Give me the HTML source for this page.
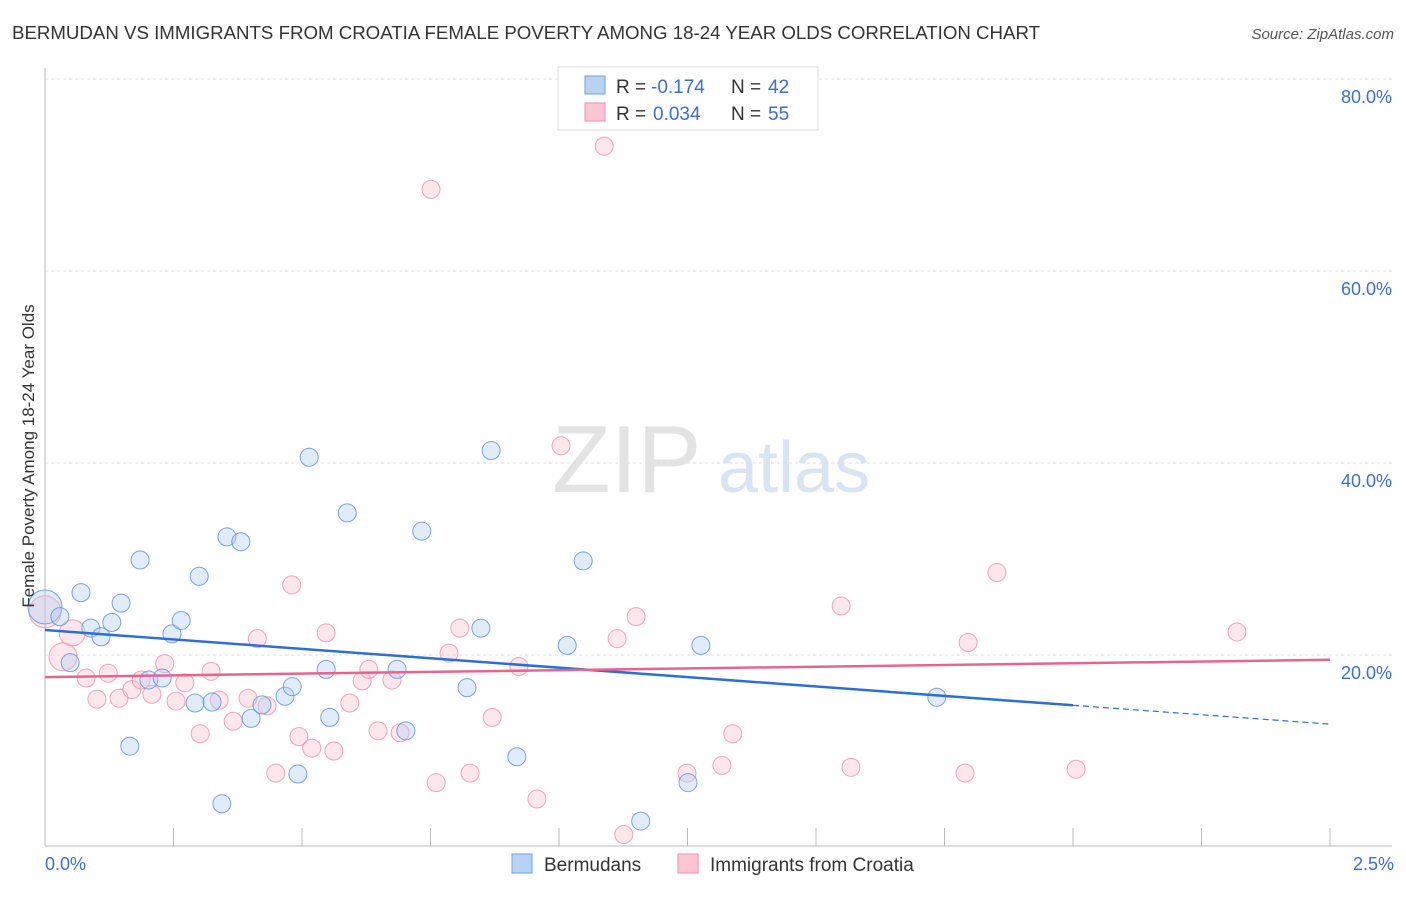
<!DOCTYPE html>
<html><head><meta charset="utf-8">
<style>
body{margin:0;background:#fff;font-family:"Liberation Sans",sans-serif;}
svg text{font-family:"Liberation Sans",sans-serif;}
</style></head>
<body>
<svg id="chart" width="1406" height="892" xmlns="http://www.w3.org/2000/svg">
<text x="12" y="39" font-size="18" fill="#333" textLength="1028" lengthAdjust="spacingAndGlyphs">BERMUDAN VS IMMIGRANTS FROM CROATIA FEMALE POVERTY AMONG 18-24 YEAR OLDS CORRELATION CHART</text>
<text x="1394" y="39" font-size="15" fill="#555" text-anchor="end" font-style="italic">Source: ZipAtlas.com</text>
<g>
<text x="552" y="492" font-size="96" fill="#ddd" font-family="Liberation Serif" opacity="0.8">ZIP</text>
<text x="718" y="492" font-size="72" fill="#c8d8ee" opacity="0.7">atlas</text>
</g>
<g id="grid"></g>
<g id="axes"></g>
<g id="marks"></g>
<text transform="translate(34,456) rotate(-90)" font-size="17" fill="#333" text-anchor="middle">Female Poverty Among 18-24 Year Olds</text>
<g>
<rect x="558" y="67" width="260" height="63" fill="#fff" stroke="#ddd"/>
<rect x="585" y="76" width="20" height="18" fill="#b8d2f4" stroke="#6fa0e0"/>
<rect x="585" y="103" width="20" height="18" fill="#fac6d4" stroke="#ee8fab"/>
<text x="616" y="93" font-size="19" fill="#333">R =</text>
<text x="651" y="93" font-size="19" fill="#3a6fcf">-0.174</text>
<text x="731" y="93" font-size="19" fill="#333">N =</text>
<text x="768" y="93" font-size="19" fill="#3a6fcf">42</text>
<text x="616" y="120" font-size="19" fill="#333">R =</text>
<text x="653" y="120" font-size="19" fill="#3a6fcf">0.034</text>
<text x="731" y="120" font-size="19" fill="#333">N =</text>
<text x="768" y="120" font-size="19" fill="#3a6fcf">55</text>
</g>
<g>
<rect x="512" y="854" width="20" height="19" fill="#b8d2f4" stroke="#6fa0e0"/>
<text x="544" y="871" font-size="19" fill="#333">Bermudans</text>
<rect x="678" y="854" width="20" height="19" fill="#fac6d4" stroke="#ee8fab"/>
<text x="710" y="871" font-size="19" fill="#333">Immigrants from Croatia</text>
</g>
</svg>
<script>
const blueX=[0,.029,.049,.070,.089,.109,.130,.148,.165,.185,.202,.228,.247,.265,.292,.300,.325,.354,.344,.381,.401,.422,.467,.481,.492,.514,.547,.554,.588,.685,.702,.733,.821,.848,.868,.918,1.016,1.047,1.159,1.251,1.276,1.735];
const blueY=[25.0,24.0,19.2,26.5,22.8,21.9,23.4,25.4,10.5,29.9,17.4,17.6,22.2,23.6,15.0,28.2,15.1,32.3,4.5,31.8,13.4,14.8,15.7,16.7,7.6,40.6,18.5,13.5,34.8,18.5,12.1,32.9,16.6,22.8,41.3,9.4,21.0,29.8,2.7,6.7,21.0,15.6];
const pinkX=[0,.035,.053,.080,.101,.123,.144,.169,.187,.208,.233,.255,.272,.302,.323,.339,.366,.395,.413,.432,.449,.480,.494,.519,.547,.562,.593,.617,.630,.648,.675,.691,.761,.786,.807,.827,.870,.922,.957,1.004,1.088,.751,1.113,1.126,1.150,1.249,1.317,1.338,1.549,1.568,1.790,1.796,1.852,2.006,2.319];
const pinkY=[24.5,19.8,22.3,17.6,15.4,18.1,15.5,16.4,17.4,15.9,19.1,15.2,17.1,11.8,18.3,15.3,13.1,15.5,21.7,14.7,7.7,27.3,11.5,10.3,22.3,10.0,15.0,17.3,18.5,12.1,17.4,11.9,6.7,20.2,22.8,7.7,13.5,18.8,5.0,41.8,73.0,68.5,21.7,1.3,24.0,7.7,8.5,11.8,25.1,8.3,7.7,21.3,28.6,8.1,22.4];
const blueTrend=[22.6,12.8];
const pinkTrend=[17.7,19.5];
const yTicks=[20,40,60,80];
const xTickLabels=["0.0%","2.5%"];
const NS="http://www.w3.org/2000/svg";
const sx=v=>45+v/2.5*1285;
const sy=v=>847-v*9.6;
function mk(tag,attrs,parent){const e=document.createElementNS(NS,tag);for(const k in attrs)e.setAttribute(k,attrs[k]);document.getElementById(parent).appendChild(e);return e;}
yTicks.forEach(t=>{
 const l=mk('line',{x1:45,x2:1392,y1:sy(t),y2:sy(t),stroke:'#ddd','stroke-dasharray':'3,3'},'grid');
 
 
 const tx=mk('text',{x:1392,y:sy(t)+24,'font-size':18,fill:'#3a6fcf','text-anchor':'end'},'axes');
 tx.textContent=t.toFixed(1)+'%';
 
 
});
let ax=mk('line',{x1:45,x2:45,y1:68,y2:846,stroke:'#bbb'},'axes');


ax=mk('line',{x1:45,x2:1392,y1:846,y2:846,stroke:'#bbb'},'axes');


for(let i=1;i<=10;i++){const t=mk('line',{x1:sx(i*0.25),x2:sx(i*0.25),y1:828,y2:846,stroke:'#bbb'},'axes');
 
 }
let xl=mk('text',{x:45,y:870,'font-size':18,fill:'#3a6fcf'},'axes');xl.textContent=xTickLabels[0];


xl=mk('text',{x:1394,y:870,'font-size':18,fill:'#3a6fcf','text-anchor':'end'},'axes');xl.textContent=xTickLabels[1];


function pts(X,Y,fill,stroke,name,bigR){X.forEach((x,i)=>{
 const c=mk('circle',{cx:sx(x),cy:sy(Y[i]),r:bigR[i]||9,fill:fill,'fill-opacity':0.4,stroke:stroke,'stroke-opacity':0.8,'stroke-width':1},'marks');
 
 
});}
pts(pinkX,pinkY,'#f9c0d0','#ec8fab','croatia-point',{0:16,1:14,2:13});
pts(blueX,blueY,'#b5cff3','#5a8edb','bermudan-point',{0:17});
let tl=mk('line',{x1:sx(0),y1:sy(blueTrend[0]),x2:sx(2.0),y2:sy(blueTrend[0]+(blueTrend[1]-blueTrend[0])*0.8),stroke:'#2b6fd6','stroke-width':2.5},'marks');


tl=mk('line',{x1:sx(2.0),y1:sy(blueTrend[0]+(blueTrend[1]-blueTrend[0])*0.8),x2:sx(2.5),y2:sy(blueTrend[1]),stroke:'#2b6fd6','stroke-width':1.2,'stroke-dasharray':'6,4'},'marks');


tl=mk('line',{x1:sx(0),y1:sy(pinkTrend[0]),x2:sx(2.5),y2:sy(pinkTrend[1]),stroke:'#e8648e','stroke-width':2.5},'marks');


</script>
</body></html>
